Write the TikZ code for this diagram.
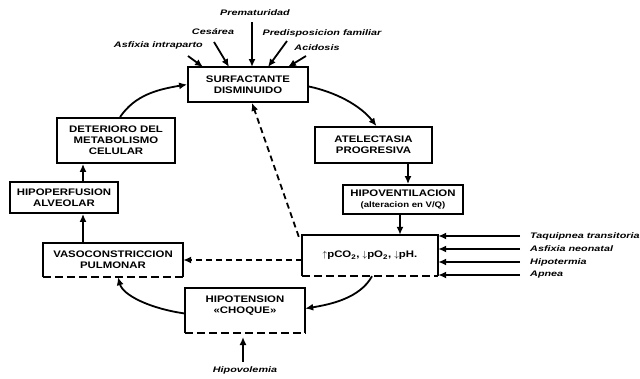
\documentclass[tikz,border=0pt]{standalone}
\usepackage{fontspec}
\setmainfont{Liberation Sans}
\newfontfamily\boxfont[FakeStretch=1.2]{Liberation Sans}
\newfontfamily\lblfont[FakeStretch=1.35]{Liberation Sans}
\usetikzlibrary{arrows.meta,calc}
\tikzset{
  boxtxt/.style={font=\boxfont\bfseries\fontsize{9.5}{11}\selectfont, align=center, inner sep=0pt},
  frame/.style={draw, line width=1.8pt},
  rimline/.style={line width=1.8pt},
  lbl/.style={font=\lblfont\bfseries\itshape\fontsize{8}{9}\selectfont, inner sep=0pt},
  arr/.style={line width=1.8pt, -{Latex[length=8pt,width=7pt]}},
  darr/.style={arr, dash pattern=on 6pt off 4pt},
}
\begin{document}
\begin{tikzpicture}[x=1pt,y=-1pt]
\fill[white] (0,0) rectangle (640,378);
\useasboundingbox (0,0) rectangle (640,378);

% boxes
\node[boxtxt,frame,minimum width=120pt,minimum height=35pt] (surf) at (248,84.5) {SURFACTANTE\\DISMINUIDO};
\node[boxtxt,frame,minimum width=117pt,minimum height=36pt] (atel) at (373.5,145) {ATELECTASIA\\PROGRESIVA};
\node[boxtxt,frame,minimum width=120pt,minimum height=29pt] (hipov) at (403,199.5) {HIPOVENTILACION\\{\fontsize{8}{9}\selectfont(alteracion en V/Q)}};
\node[boxtxt,minimum width=136pt,minimum height=41pt] (tpco) at (370,255.5) {$\uparrow$pCO\textsubscript{2}, $\downarrow$pO\textsubscript{2}, $\downarrow$pH.};
\node[boxtxt,minimum width=140pt,minimum height=34pt] (vaso) at (113,260) {VASOCONSTRICCION\\PULMONAR};
\node[boxtxt,frame,minimum width=108pt,minimum height=31pt] (hipop) at (64,197.5) {HIPOPERFUSION\\ALVEOLAR};
\node[boxtxt,frame,minimum width=118pt,minimum height=45pt] (deter) at (116,140.5) {DETERIORO DEL\\METABOLISMO\\CELULAR};
\node[boxtxt,minimum width=120pt,minimum height=45pt] (hipot) at (245,310.5) {HIPOTENSION\\«CHOQUE»\\\mbox{}};

\foreach \n in {tpco,vaso,hipot}{
  \draw[rimline] (\n.south west) -- (\n.north west) -- (\n.north east) -- (\n.south east);
  \draw[rimline, dash pattern=on 8pt off 4pt] (\n.south west) -- (\n.south east);
}

% right labels
\node[lbl,anchor=west] (taq) at (530,236) {Taquipnea transitoria};
\node[lbl,anchor=west] (asn) at (530,249) {Asfixia neonatal};
\node[lbl,anchor=west] (hipt) at (530,262) {Hipotermia};
\node[lbl,anchor=west] (apn) at (530,275) {Apnea};
\foreach \n in {taq,asn,hipt,apn}{
  \draw[arr] ($(\n.west)+(-10,0)$) -- (\n.west -| tpco.east);
}

% top labels
\node[lbl] (prem) at (255,13) {Prematuridad};
\node[lbl] (ces) at (213,32) {Cesárea};
\node[lbl,anchor=east] (asfi) at (203,45) {Asfixia intraparto};
\node[lbl] (pred) at (322,33) {Predisposicion familiar};
\node[lbl] (acid) at (317,48) {Acidosis};

\coordinate (pS) at (252,22);  \coordinate (pT) at (252,67);
\coordinate (cS) at (214,42);  \coordinate (cT) at (229,67);
\coordinate (aS) at (188,56);  \coordinate (aT) at (203,67);
\coordinate (dS) at (287,41);  \coordinate (dT) at (268,67);
\coordinate (eS) at (306,56);  \coordinate (eT) at (288,67);
\draw[arr] (pS) -- (pT);
\draw[arr] (cS) -- (cT);
\draw[arr] (aS) -- (aT);
\draw[arr] (dS) -- (dT);
\draw[arr] (eS) -- (eT);

% cycle
\draw[arr] ($(surf.east)+(0,2)$) .. controls (335,92) and (360,105) .. ($(atel.north)+(3,0)$);
\coordinate (a1) at (408,0);
\draw[arr] (atel.south -| a1) -- (hipov.north -| a1);
\coordinate (h1) at (400,0);
\draw[arr] (hipov.south -| h1) -- (tpco.north -| h1);
\draw[darr] ($(tpco.north west)+(-3,2)$) -- ($(surf.south)+(4,0)$);
\draw[darr] (vaso.east -| tpco.west) -- (vaso.east);
\draw[arr] ($(tpco.south)+(2,0)$) .. controls +(-12,22) and +(25,-4) .. ($(hipot.east)+(0,-2)$);
\draw[arr] ($(hipot.west)+(0,3)$) .. controls +(-35,-5) and +(5,18) .. ($(vaso.south)+(5,0)$);
\coordinate (v1) at (83,0);
\draw[arr] (vaso.north -| v1) -- (hipop.south -| v1);
\draw[arr] (hipop.north -| v1) -- (deter.south -| v1);
\draw[arr] ($(deter.north)+(4,0)$) .. controls +(15,-22) and +(-30,5) .. (surf.west);

% bottom input
\node[lbl] (hvol) at (245,370) {Hipovolemia};
\coordinate (hv) at (243,337);
\draw[arr] ($(hvol.north)+(-2,-4)$) -- (hv);
\end{tikzpicture}
\end{document}
